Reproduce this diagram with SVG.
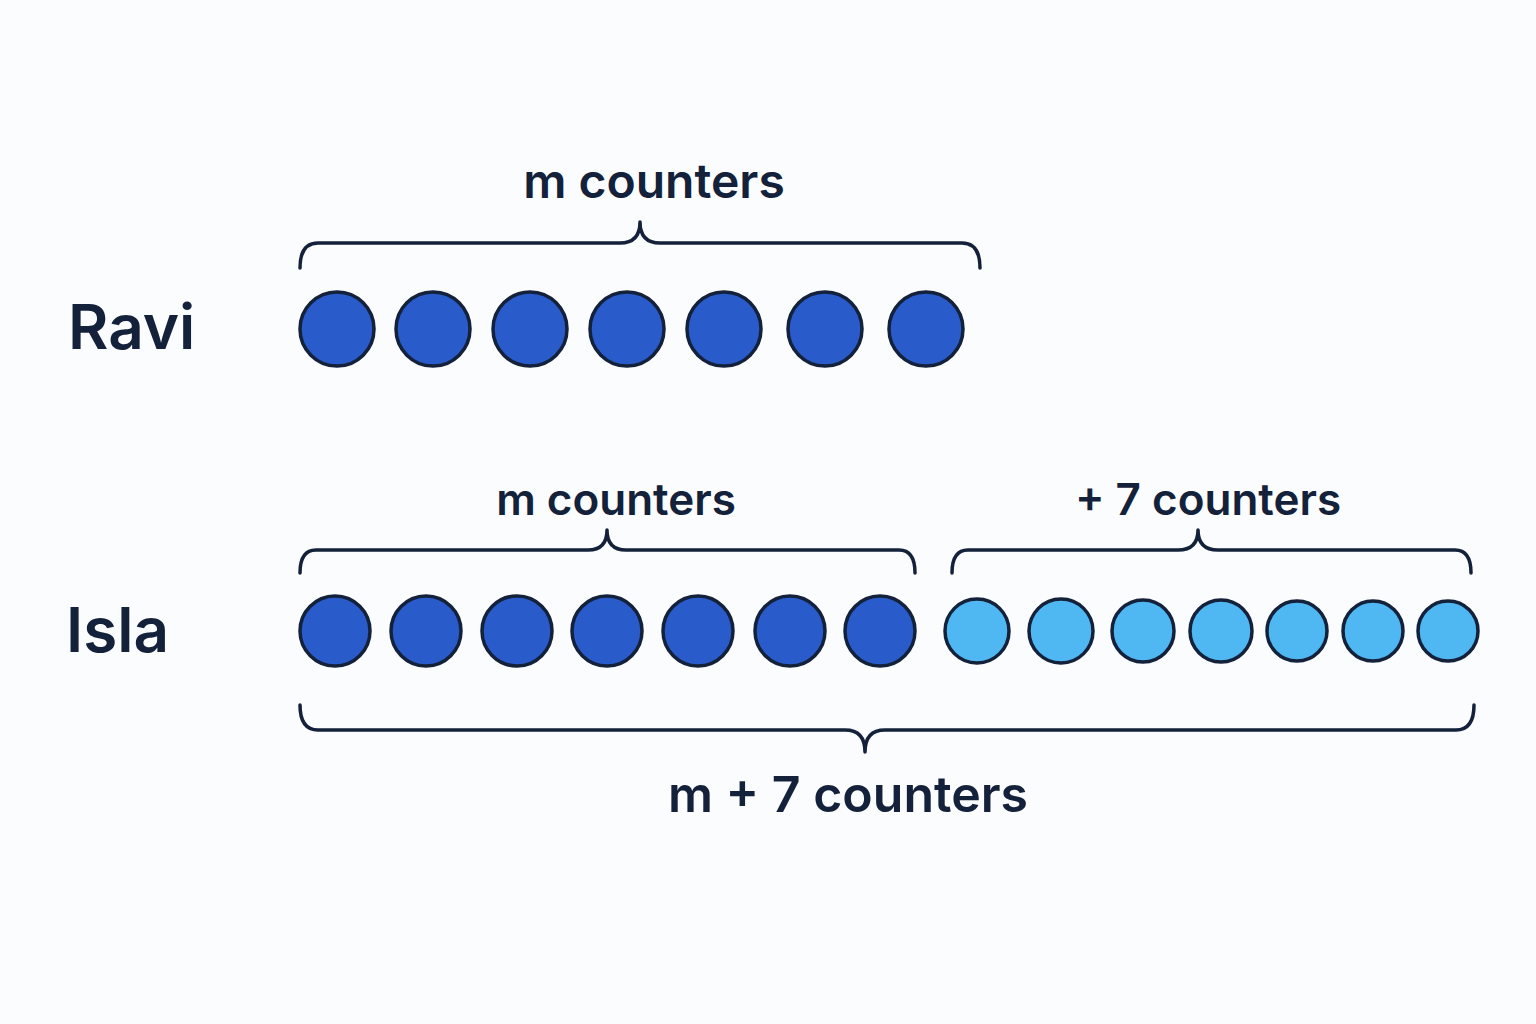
<svg xmlns="http://www.w3.org/2000/svg" width="1536" height="1024" viewBox="0 0 1536 1024">
<style>
.t{font-family:Inter,"Noto Sans",sans-serif;font-weight:600;fill:#14213a}
.d{fill:#2a5bcb;stroke:#14213a;stroke-width:3.5}
.l{fill:#4fb8f3;stroke:#14213a;stroke-width:3.5}
.b{fill:none;stroke:#14213a;stroke-width:3.5;stroke-linecap:round;stroke-linejoin:round}
</style>
<rect width="1536" height="1024" fill="#fbfcfd"/>
<g id="labels">
<text class="t" x="68" y="349" font-size="62">Ravi</text>
<text class="t" x="66" y="652" font-size="62">Isla</text>
<text class="t" x="654" y="198" font-size="48" text-anchor="middle">m counters</text>
<text class="t" x="616" y="515" font-size="44" text-anchor="middle">m counters</text>
<text class="t" x="1208" y="515" font-size="44" text-anchor="middle">+ 7 counters</text>
<text class="t" x="848" y="812" font-size="50" text-anchor="middle">m + 7 counters</text>
</g>
<g id="braces">
<path class="b" d="M300,268 Q300,243 318,243 L620,243 Q640,243 640,222 Q640,243 660,243 L962,243 Q980,243 980,268"/>
<path class="b" d="M300,573 Q300,550 316,550 L588,550 Q607,550 607,530 Q607,550 626,550 L899,550 Q915,550 915,573"/>
<path class="b" d="M952,573 Q952,550 968,550 L1178,550 Q1198,550 1198,530 Q1198,550 1218,550 L1455,550 Q1471,550 1471,573"/>
<path class="b" d="M300,705 Q300,730 318,730 L845,730 Q865,730 865,752 Q865,730 885,730 L1456,730 Q1474,730 1474,705"/>
</g>
<g id="ravi">
<circle class="d" cx="337" cy="329" r="37"/><circle class="d" cx="433" cy="329" r="37"/><circle class="d" cx="530" cy="329" r="37"/><circle class="d" cx="627" cy="329" r="37"/><circle class="d" cx="724" cy="329" r="37"/><circle class="d" cx="825" cy="329" r="37"/><circle class="d" cx="926" cy="329" r="37"/>
</g>
<g id="isla">
<circle class="d" cx="335" cy="631" r="35"/><circle class="d" cx="426" cy="631" r="35"/><circle class="d" cx="517" cy="631" r="35"/><circle class="d" cx="607" cy="631" r="35"/><circle class="d" cx="698" cy="631" r="35"/><circle class="d" cx="790" cy="631" r="35"/><circle class="d" cx="880" cy="631" r="35"/>
<circle class="l" cx="977" cy="631" r="32"/><circle class="l" cx="1061" cy="631" r="32"/><circle class="l" cx="1143" cy="631" r="31"/><circle class="l" cx="1221" cy="631" r="31"/><circle class="l" cx="1297" cy="631" r="30"/><circle class="l" cx="1373" cy="631" r="30"/><circle class="l" cx="1448" cy="631" r="30"/>
</g>
</svg>
